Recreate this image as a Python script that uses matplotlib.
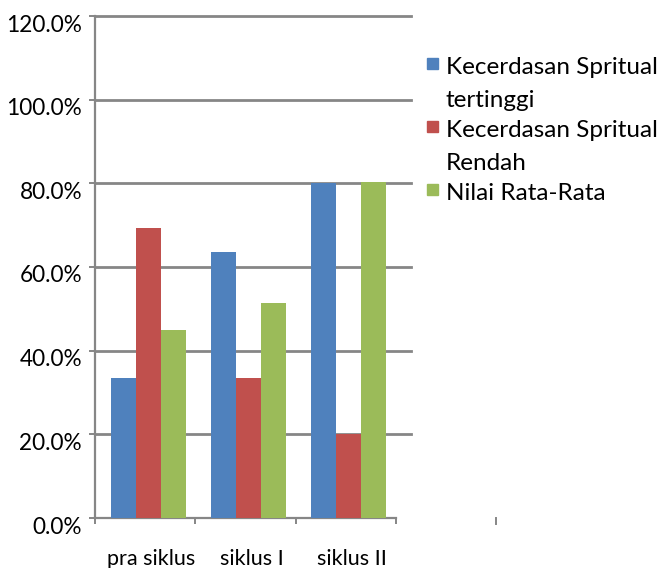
import matplotlib
matplotlib.use("Agg")
import matplotlib.pyplot as plt
import matplotlib.transforms as mtransforms
from matplotlib.patches import Rectangle
import numpy as np

categories = ["pra siklus", "siklus I", "siklus II"]
series_names = ["Kecerdasan Spritual\ntertinggi", "Kecerdasan Spritual\nRendah", "Nilai Rata-Rata"]
tinggi = [33.4, 63.6, 80.0]
rendah = [69.3, 33.4, 20.0]
rata = [44.9, 51.4, 80.3]
yticks = [0, 20, 40, 60, 80, 100, 120]
ytick_labels = ["0.0%", "20.0%", "40.0%", "60.0%", "80.0%", "100.0%", "120.0%"]

colors = ["#4F81BD", "#C0504D", "#9BBB59"]
grid_c = "#868686"

plt.rcParams["font.family"] = ["Lato", "DejaVu Sans"]

W, H = 661, 568
fig = plt.figure(figsize=(W / 100, H / 100), dpi=100)
ax = fig.add_axes([95 / W, 1 - 518 / H, (396 - 95) / W, (518 - 16) / H])

x = np.arange(len(categories)) + 0.5
bw = 0.25
for i, vals in enumerate([tinggi, rendah, rata]):
    ax.bar(x + (i - 1) * bw + 0.03, vals, width=bw, color=colors[i], zorder=3)

ax.set_xlim(0, 3)
ax.set_ylim(0, 120)

for s in ["top", "right"]:
    ax.spines[s].set_visible(False)
for s in ["left", "bottom"]:
    ax.spines[s].set_color(grid_c)
    ax.spines[s].set_linewidth(1.6)

for yv in yticks[1:]:
    ax.axhline(yv, xmin=0, xmax=1.05, color=grid_c, lw=2.0, clip_on=False, zorder=1)

ax.set_yticks(yticks)
ax.set_yticklabels(ytick_labels, fontsize=16.3)
ax.tick_params(axis="y", direction="out", length=4.3, width=1.4, color=grid_c, pad=5)
offset = mtransforms.ScaledTranslation(0, -0.07, fig.dpi_scale_trans)
for lab in ax.get_yticklabels():
    lab.set_transform(lab.get_transform() + offset)

ax.set_xticks([0, 1, 2, 3])
ax.set_xticklabels([])
ax.tick_params(axis="x", which="major", direction="out", length=4.3, width=1.4, color=grid_c)
ax.set_xticks(x, minor=True)
ax.set_xticklabels(categories, minor=True, fontsize=15.5)
ax.tick_params(axis="x", which="minor", length=0, pad=22)
xoff = mtransforms.ScaledTranslation(0.06, 0, fig.dpi_scale_trans)
for lab in ax.get_xticklabels(minor=True):
    lab.set_transform(lab.get_transform() + xoff)

# extra stray tick
trans = mtransforms.blended_transform_factory(ax.transData, ax.transAxes)
ax.plot([4, 4], [0, -6 / 502], transform=trans, color=grid_c, lw=1.4, clip_on=False)

# legend
baselines = [74, 137, 200]
line_gap = 33
for i, name in enumerate(series_names):
    b = baselines[i]
    fig.patches.append(Rectangle((427 / W, 1 - (b - 5) / H), 11 / W, 11 / H,
                                 transform=fig.transFigure, color=colors[i]))
    for k, line in enumerate(name.split("\n")):
        fig.text(446 / W, 1 - (b + k * line_gap) / H, line, fontsize=17.5,
                 va="baseline", ha="left")

fig.savefig("out.png", dpi=100)
